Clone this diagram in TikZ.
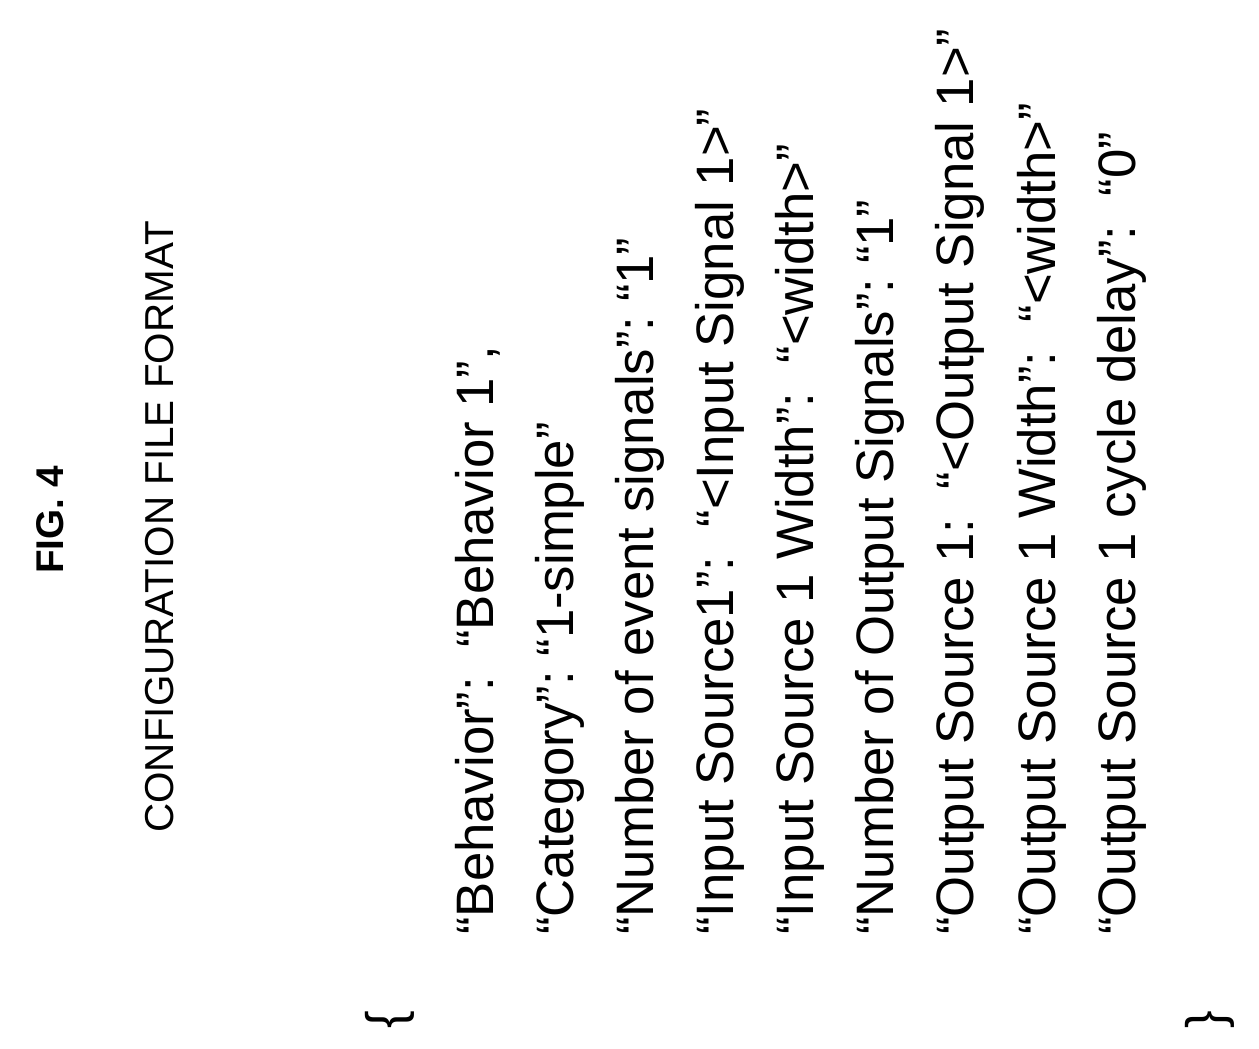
\documentclass[tikz,border=0pt]{standalone}
\usepackage{fontspec}
\setmainfont{Liberation Sans}
\tikzset{
  cfgline/.style={rotate=90, anchor=west, inner sep=0pt, font=\fontsize{30}{36}\selectfont},
  heading/.style={rotate=90, inner sep=0pt, font=\fontsize{23}{27}\selectfont}
}
\begin{document}
\begin{tikzpicture}[x=0.02cm, y=0.02cm]
  \useasboundingbox (0,0) rectangle (1259,1049);

  \node[heading, font=\fontsize{22}{26}\selectfont\bfseries] (fig) at (50,529) {FIG. 4};
  \node[heading] (title) at (160,522) {CONFIGURATION FILE FORMAT};

  \node[cfgline] (open) at (390,20) {\{};
  \node[cfgline] (l1) at (478,114) {“Behavior”:\ \ “Behavior 1”,};
  \node[cfgline] (l2) at (560,114) {“Category”:\ “1-simple”};
  \node[cfgline] (l3) at (640,114) {“Number of event signals”:\ “1”};
  \node[cfgline] (l4) at (720,114) {“Input Source1”:\ \ “<Input Signal 1>”};
  \node[cfgline] (l5) at (800,114) {“Input Source 1 Width”:\ \ “<width>”};
  \node[cfgline] (l6) at (880,114) {“Number of Output Signals”:\ “1”};
  \node[cfgline] (l7) at (960,114) {“Output Source 1:\ \ “<Output Signal 1>”};
  \node[cfgline] (l8) at (1042,114) {“Output Source 1 Width”:\ \ “<width>”};
  \node[cfgline] (l9) at (1122,114) {“Output Source 1 cycle delay”:\ \ “0”};
  \node[cfgline] (close) at (1210,20) {\}};
\end{tikzpicture}
\end{document}
